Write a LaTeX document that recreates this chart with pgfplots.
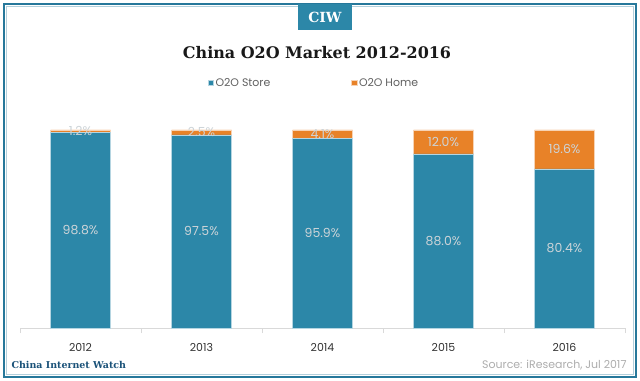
\documentclass[border=0pt]{standalone}
\usepackage{pgfplots}
\pgfplotsset{compat=1.18}
\usepackage{pgfplotstable}
\usepackage{fontspec}
\setmainfont{Liberation Serif}
\newfontfamily\gothic{Poppins}
\newfontfamily\georgia{DejaVu Serif}
\definecolor{ciwblue}{RGB}{44,135,168}
\definecolor{ciworange}{RGB}{232,130,40}
\definecolor{framedark}{RGB}{38,120,155}
\definecolor{ciwtext}{RGB}{26,82,121}
\definecolor{labelgray}{RGB}{205,212,216}
\pgfplotstableread{
x store home
0 98.8 1.2
1 97.5 2.5
2 95.9 4.1
3 88.0 12.0
4 80.4 19.6
}\datatable
\begin{document}
\begin{tikzpicture}
\path[use as bounding box] (0bp,0bp) rectangle (640bp,381bp);
\fill[white] (0bp,0bp) rectangle (640bp,381bp);
\draw[framedark, line width=2bp] (4bp,4bp) rectangle (636bp,377bp);
\draw[framedark!35, line width=0.6bp] (6.3bp,6.3bp) rectangle (633.7bp,374.7bp);
\fill[ciwblue] (298bp,351bp) rectangle (352bp,377bp);
\node[text=white, font=\georgia\bfseries\fontsize{14}{14}\selectfont] at (325bp,363.5bp) {CIW};
\node[text=black!90, font=\georgia\bfseries\fontsize{16}{16}\selectfont] at (317bp,328bp) {China O2O Market 2012-2016};
\node[anchor=west, text=ciwtext, font=\georgia\bfseries\fontsize{9.5}{9.5}\selectfont] at (8bp,16bp) {China Internet Watch};
\node[anchor=east, text=black!32, font=\gothic\fontsize{11}{11}\selectfont] at (630bp,16bp) {Source: iResearch, Jul 2017};
\begin{axis}[
  at={(20bp,53bp)}, anchor=south west,
  scale only axis, width=605bp, height=198bp,
  ybar stacked, bar width=60bp,
  xmin=-0.5, xmax=4.5, ymin=0, ymax=100,
  axis y line=none,
  axis x line*=bottom,
  x axis line style={draw=black!15, line width=0.8bp, -},
  xtick={0,...,4}, xticklabels={2012,2013,2014,2015,2016},
  major tick length=0pt,
  extra x ticks={-0.5,0.5,1.5,2.5,3.5,4.5}, extra x tick labels={},
  extra x tick style={major tick length=5bp, tick align=outside, tick style={draw=black!15, line width=0.8bp}},
  xticklabel style={anchor=center, yshift=-19bp, font=\gothic\fontsize{11}{11}\selectfont, text=black!80},
  clip=false,
  legend style={at={(0.486,1.237)}, anchor=center, draw=none, fill=none, legend columns=2,
    font=\gothic\fontsize{11}{11}\selectfont, text=black!62,
    /tikz/every even column/.append style={column sep=79bp}},
  legend image code/.code={\fill[#1] (0bp,-2.6bp) rectangle (5.2bp,2.6bp);},
  point meta=explicit,
  nodes near coords={\pgfmathprintnumber[fixed,fixed zerofill,precision=1]{\pgfplotspointmeta}\%},
  /pgf/number format/assume math mode=true,
  every node near coord/.append style={anchor=center,
    font=\gothic\fontsize{12.5}{12.5}\selectfont, text=labelgray},
]
\addplot[fill=ciwblue, draw=white!65!ciwblue, line width=0.5bp] table[x=x, y=store, meta=store] {\datatable};
\addlegendentry{O2O Store}
\addplot[fill=ciworange, draw=white!65!ciworange, line width=0.5bp] table[x=x, y=home, meta=home] {\datatable};
\addlegendentry{O2O Home}
\end{axis}
\end{tikzpicture}
\end{document}
